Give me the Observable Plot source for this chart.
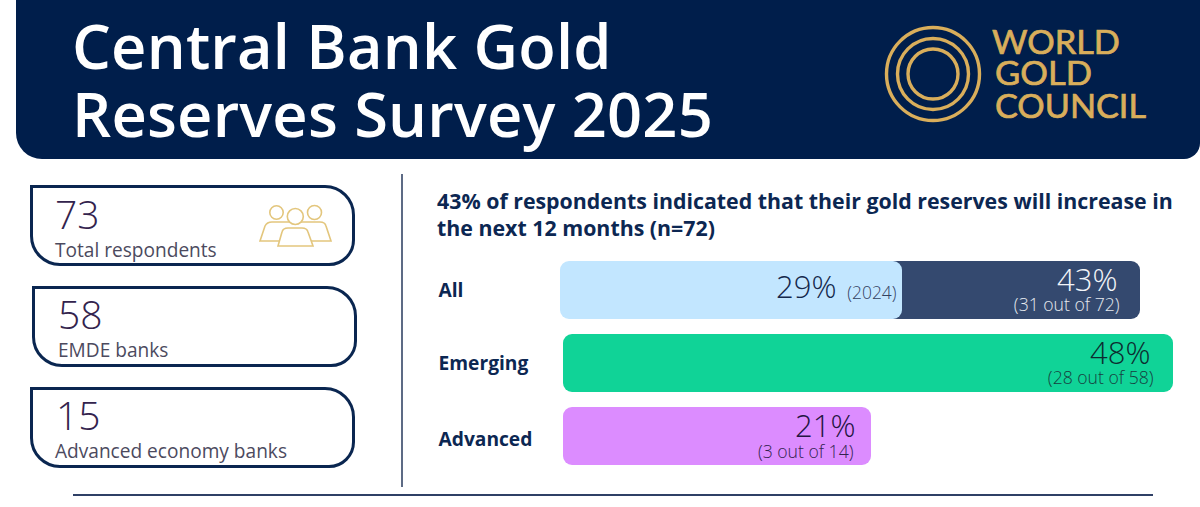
<!DOCTYPE html>
<html>
<head>
<meta charset="utf-8">
<script src="https://cdn.jsdelivr.net/npm/d3@7"></script>
<script src="https://cdn.jsdelivr.net/npm/@observablehq/plot@0.6"></script>
<style>
  html,body{margin:0;padding:0;background:#fff;}
  body{width:1200px;height:507px;position:relative;overflow:hidden;font-family:"Open Sans","Noto Sans",sans-serif;}
  #header{position:absolute;left:16px;top:-2px;width:1184px;height:161px;background:#001e4b;border-radius:0 0 16px 26px;}
  #title{position:absolute;left:72px;top:11px;color:#fff;font-size:61.4px;font-weight:600;line-height:68px;letter-spacing:.2px;white-space:nowrap;}
  #logo{position:absolute;left:870px;top:10px;}
  .card{position:absolute;box-sizing:border-box;width:325px;height:81px;border:3px solid #0a2650;border-radius:0 30px 26px 30px;}
  .num{position:absolute;font-size:39px;font-weight:300;color:#33234d;line-height:44px;}
  .lab{position:absolute;font-size:19.1px;font-weight:400;color:#4c4a5e;line-height:24px;white-space:nowrap;}
  #vline{position:absolute;left:401px;top:174px;width:1.5px;height:313px;background:#5d6b85;}
  #hline{position:absolute;left:73px;top:494px;width:1080px;height:1.5px;background:#2f4066;}
  #head{position:absolute;left:437px;top:187px;color:#0c2752;font-size:21.35px;font-weight:700;line-height:27px;white-space:nowrap;}
  #chart{position:absolute;left:420px;top:250px;}
  #chart svg{overflow:visible;}
  #chart [aria-label="y-axis tick label"] text{font-weight:700;}
</style>
</head>
<body>
<div id="header"></div>
<div id="title">Central Bank Gold<br>Reserves Survey 2025</div>
<svg id="logo" width="300" height="125" viewBox="870 10 300 125">
  <g fill="none" stroke="#d9ae5b" stroke-width="3.4">
    <circle cx="933" cy="74" r="46.5"/><circle cx="933" cy="74" r="35.5"/><circle cx="933" cy="74" r="25"/>
  </g>
  <g fill="#d9ae5b" stroke="#d9ae5b" stroke-width="0.7" font-family="Lato,sans-serif" font-size="32.5">
    <text x="992" y="54" textLength="128" lengthAdjust="spacingAndGlyphs">WORLD</text>
    <text x="995" y="85" textLength="97" lengthAdjust="spacingAndGlyphs">GOLD</text>
    <text x="995" y="118" textLength="151" lengthAdjust="spacingAndGlyphs">COUNCIL</text>
  </g>
</svg>

<div class="card" style="left:30px;top:185px"></div>
<div class="num" style="left:55px;top:192px">73</div>
<div class="lab" style="left:55px;top:238px">Total respondents</div>
<div class="card" style="left:32px;top:286px"></div>
<div class="num" style="left:58px;top:292px">58</div>
<div class="lab" style="left:58px;top:338px">EMDE banks</div>
<div class="card" style="left:30px;top:387px"></div>
<div class="num" style="left:56px;top:393px">15</div>
<div class="lab" style="left:55px;top:439px">Advanced economy banks</div>

<svg style="position:absolute;left:255px;top:200px" width="80" height="50" viewBox="255 200 80 50">
  <g fill="#fff" stroke="#e3c67d" stroke-width="1.6">
    <circle cx="276.5" cy="212.5" r="6.7"/><circle cx="314.5" cy="212.5" r="7"/>
    <path d="M260 241 L265 226 Q267 222 272 222 L282 222 L308 222 L320 222 Q325 222 326 226 L331 241 Z"/>
    <circle cx="295.3" cy="216.5" r="8"/>
    <path d="M278 246 L282 232 Q283 228 288 228 L302 228 Q307 228 308 232 L313 246 Z"/>
  </g>
</svg>

<div id="vline"></div>
<div id="hline"></div>
<div id="head">43% of respondents indicated that their gold reserves will increase in<br>the next 12 months (n=72)</div>
<div id="chart"></div>

<script>
const groups = ["All", "Emerging", "Advanced"];
const shares2025 = [43, 48, 21];
const counts = ["(31 out of 72)", "(28 out of 58)", "(3 out of 14)"];
const barColors = ["#34496f", "#10d397", "#dc8cff"];
const labelColors = ["#f2f4f8", "#0d2c30", "#241543"];
const subColors = ["#e6e9f0", "#173f40", "#32234f"];
const labelShifts = [-26, -23, -16];
const countShifts = [-24, -20, -18];
const share2024All = 29;
const year2024 = "(2024)";

const rows = groups.map((g, i) => ({
  group: g, value: shares2025[i], count: counts[i],
  fill: barColors[i], ink: labelColors[i], sub: subColors[i]
}));
const prior = [{group: "All", value: share2024All}];

// The reference's bars are not drawn in proportion to their percentages:
// this maps each percentage to the length it has in the picture.
const drawnLength = d3.scaleLinear().domain([0, 21, 29, 43, 48]).range([0, 308, 342, 580, 610]);

const radius = 9;
const rowLabels = rows.flatMap((r, i) => [
  Plot.text([r], {x: "value", y: "group", text: d => d.value + "%", fill: "ink", textAnchor: "end", fontSize: 31, fontWeight: 300, dx: labelShifts[i], dy: -9}),
  Plot.text([r], {x: "value", y: "group", text: "count", fill: "sub", textAnchor: "end", fontSize: 17.6, fontWeight: 300, dx: countShifts[i], dy: i === 2 ? 16 : 15})
]);
const chart = Plot.plot({
  width: 780, height: 257,
  marginLeft: 143, marginRight: 0, marginTop: 0, marginBottom: 0,
  style: {fontFamily: '"Open Sans","Noto Sans",sans-serif', background: "transparent", overflow: "visible"},
  x: {domain: [0, 610], range: [143, 753], transform: drawnLength, axis: null},
  y: {domain: groups, range: [10, 216], paddingInner: 0.21, paddingOuter: 0, label: null, axis: null},
  marks: [
    Plot.axisY({ticks: ["All", "Emerging"], anchor: "left", tickSize: 0, tickPadding: 0, textAnchor: "start", dx: -125, fontSize: 19.2, fill: "#0c2752", label: null}),
    Plot.axisY({ticks: ["Advanced"], anchor: "left", tickSize: 0, tickPadding: 0, textAnchor: "start", dx: -125, dy: 3, fontSize: 19.2, fill: "#0c2752", label: null}),
    Plot.barX(rows.slice(0,1), {x1: () => share2024All - 5, x2: "value", y: "group", fill: "fill", rx: radius, dx: -3}),
    Plot.barX(prior, {x: "value", y: "group", fill: "#c2e6ff", rx: radius, dx: -3}),
    Plot.barX(rows.slice(1), {x: "value", y: "group", fill: "fill", rx: radius}),
    ...rowLabels,
    Plot.text(prior, {x: "value", y: "group", text: d => d.value + "%", fill: "#14284c", textAnchor: "end", fontSize: 31, fontWeight: 300, dx: -69, dy: -2}),
    Plot.text(prior, {x: "value", y: "group", text: () => year2024, fill: "#33415f", textAnchor: "end", fontSize: 17.4, fontWeight: 300, dx: -9, dy: 3})
  ]
});
document.getElementById("chart").append(chart);
</script>
</body>
</html>
